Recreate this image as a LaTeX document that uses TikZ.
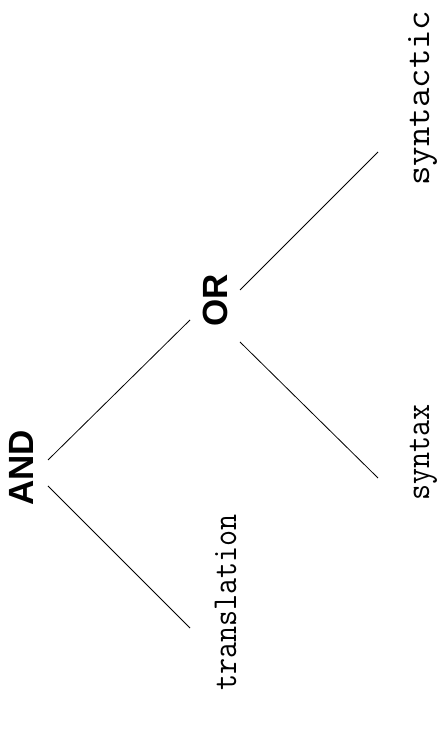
\documentclass[tikz,border=0pt]{standalone}
\usepackage{fontspec}
\newfontfamily\headfont{Liberation Sans}[BoldFont={Liberation Sans Bold}]
\begin{document}
\begin{tikzpicture}[x=1pt,y=1pt,
  inner sep=0pt,
  opnode/.style={rotate=90, font=\headfont\bfseries\fontsize{35}{35}\selectfont, anchor=center},
  leafnode/.style={rotate=90, font=\ttfamily\fontsize{35}{35}\selectfont, anchor=base west},
  branch/.style={draw=black, line width=0.8pt}]
\useasboundingbox (0,0) rectangle (438,735);

% operator nodes
\node[opnode] (and) at (21,267) {AND};
\node[opnode] (or)  at (215,435) {OR};

% leaves
\node[leafnode, xscale=0.89] (translation) at (236,44) {translation};
\node[leafnode, xscale=0.89] (syntax)      at (429,234) {syntax};
\node[leafnode, xscale=1.08] (syntactic)   at (429,549) {syntactic};

% ends of the branches
\coordinate (and-r) at (48,275);
\coordinate (or-l)  at (190,415);
\coordinate (and-b) at (48,249);
\coordinate (tr-t)  at (190,107);
\coordinate (or-r)  at (240,445);
\coordinate (sc-t)  at (378,583);
\coordinate (or-b)  at (240,393);
\coordinate (sx-t)  at (378,257);

\draw[branch] (and-r) -- (or-l);
\draw[branch] (and-b) -- (tr-t);
\draw[branch] (or-r)  -- (sc-t);
\draw[branch] (or-b)  -- (sx-t);
\end{tikzpicture}
\end{document}
